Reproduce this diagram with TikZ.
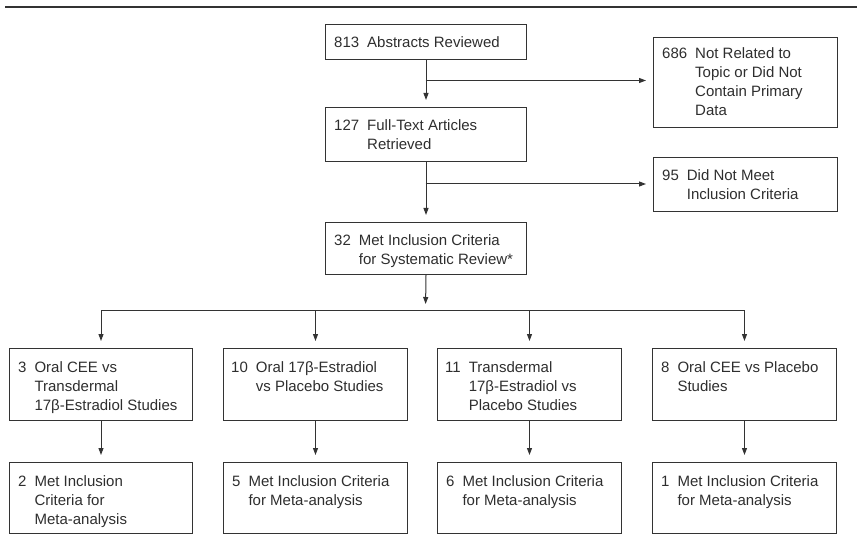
\documentclass[tikz,border=0pt]{standalone}
\usepackage{fontspec}
\setmainfont{Liberation Sans}
\usetikzlibrary{arrows.meta}
\definecolor{ink}{HTML}{2E2E2E}
\definecolor{linec}{HTML}{333333}
\newcommand{\fsz}{\fontsize{15}{19}\selectfont\setbox\strutbox\hbox{\vrule height 13.3pt depth 5.7pt width 0pt}}
\newcommand{\entry}[2]{\begin{tabular}[t]{@{}l@{\hspace{8pt}}l@{}}#1 & #2\end{tabular}}
\tikzset{
  box/.style={draw=linec, line width=1pt, inner sep=0pt, anchor=north west},
  txt/.style={anchor=base west, inner sep=0pt, text=ink, font=\fsz},
  arr/.style={draw=linec, line width=1pt, -{Triangle[length=7pt,width=5pt]}, shorten >=7pt},
  rule/.style={draw=linec, line width=2pt},
}
\begin{document}
\begin{tikzpicture}[x=1pt,y=-1pt]
\useasboundingbox (0,0) rectangle (860,548);
\coordinate (rl) at (5,7);
\coordinate (rr) at (857,7);
\draw[rule] (rl) -- (rr);

% main column
\node[box, minimum width=201pt, minimum height=35pt] (b1) at (325,24) {};
\node[txt] (t1) at ([xshift=9pt,yshift=-24pt]b1.north west) {\entry{813}{Abstracts Reviewed}};
\node[box, minimum width=201pt, minimum height=54pt] (b2) at (325,107) {};
\node[txt] (t2) at ([xshift=9pt,yshift=-24pt]b2.north west) {\entry{127}{Full-Text Articles\\ & Retrieved}};
\node[box, minimum width=201pt, minimum height=52pt] (b3) at (325,222) {};
\node[txt] (t3) at ([xshift=9pt,yshift=-24pt]b3.north west) {\entry{32}{Met Inclusion Criteria\\ & for Systematic Review*}};

% exclusions
\node[box, minimum width=184pt, minimum height=90pt] (r1) at (653,37) {};
\node[txt] (tr1) at ([xshift=9pt,yshift=-22pt]r1.north west) {\entry{686}{Not Related to\\ & Topic or Did Not\\ & Contain Primary\\ & Data}};
\node[box, minimum width=184pt, minimum height=54pt] (r2) at (653,157) {};
\node[txt] (tr2) at ([xshift=9pt,yshift=-24pt]r2.north west) {\entry{95}{Did Not Meet\\ & Inclusion Criteria}};

% study groups
\node[box, minimum width=183pt, minimum height=72pt] (sA) at (9,348) {};
\node[txt] (tsA) at ([xshift=9pt,yshift=-24pt]sA.north west) {\entry{3}{Oral CEE vs\\ & Transdermal\\ & 17β-Estradiol Studies}};
\node[box, minimum width=184pt, minimum height=72pt] (sB) at (223,348) {};
\node[txt] (tsB) at ([xshift=8pt,yshift=-24pt]sB.north west) {\entry{10}{Oral 17β-Estradiol\\ & vs Placebo Studies}};
\node[box, minimum width=184pt, minimum height=72pt] (sC) at (437,348) {};
\node[txt] (tsC) at ([xshift=8pt,yshift=-24pt]sC.north west) {\entry{11}{Transdermal\\ & 17β-Estradiol vs\\ & Placebo Studies}};
\node[box, minimum width=184pt, minimum height=72pt] (sD) at (652,348) {};
\node[txt] (tsD) at ([xshift=9pt,yshift=-24pt]sD.north west) {\entry{8}{Oral CEE vs Placebo\\ & Studies}};

% meta-analysis
\node[box, minimum width=183pt, minimum height=71pt] (mA) at (9,462) {};
\node[txt] (tmA) at ([xshift=9pt,yshift=-24pt]mA.north west) {\entry{2}{Met Inclusion\\ & Criteria for\\ & Meta-analysis}};
\node[box, minimum width=184pt, minimum height=71pt] (mB) at (223,462) {};
\node[txt] (tmB) at ([xshift=9pt,yshift=-24pt]mB.north west) {\entry{5}{Met Inclusion Criteria\\ & for Meta-analysis}};
\node[box, minimum width=184pt, minimum height=71pt] (mC) at (437,462) {};
\node[txt] (tmC) at ([xshift=9pt,yshift=-24pt]mC.north west) {\entry{6}{Met Inclusion Criteria\\ & for Meta-analysis}};
\node[box, minimum width=184pt, minimum height=71pt] (mD) at (652,462) {};
\node[txt] (tmD) at ([xshift=9pt,yshift=-24pt]mD.north west) {\entry{1}{Met Inclusion Criteria\\ & for Meta-analysis}};

% connectors
\coordinate (j1) at (425.5,80.5);
\coordinate (j2) at (425.5,184);
\coordinate (dist) at (425.5,311);
\draw[arr] (b1.south) -- (b2.north);
\draw[arr] (j1) -- (j1 -| r1.west);
\draw[arr] (b2.south) -- (b3.north);
\draw[arr] (j2) -- (j2 -| r2.west);
\draw[arr] (b3.south) -- (dist);
\draw[arr] (dist) -| (sA.north);
\draw[arr] (dist) -| (sB.north);
\draw[arr] (dist) -| (sC.north);
\draw[arr] (dist) -| (sD.north);
\draw[arr] (sA.south) -- (mA.north);
\draw[arr] (sB.south) -- (mB.north);
\draw[arr] (sC.south) -- (mC.north);
\draw[arr] (sD.south) -- (mD.north);
\end{tikzpicture}
\end{document}
